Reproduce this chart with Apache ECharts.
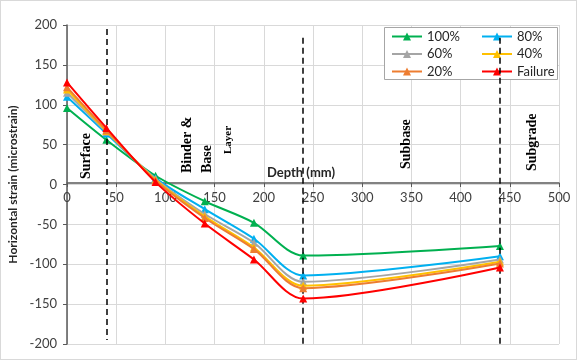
<!DOCTYPE html>
<html>
<head>
<meta charset="utf-8">
<script src="https://cdn.jsdelivr.net/npm/echarts@6/dist/echarts.min.js"></script>
<style>
    html, body {margin:0;padding:0;background:#fff}
    #chart {width:577px;height:360px;box-sizing:border-box;border:1px solid #d9d9d9}
</style>
</head>
<body>
<div id="chart"></div>
<script>
    // depth (mm) and horizontal strain for each load level
    var depth = [0, 40, 90, 140, 190, 240, 440];
    var s100 = [96, 56, 11, -21, -48, -89, -77];
    var s80 = [110, 64, 8, -31, -68, -114, -90];
    var s60 = [115, 66, 7, -37, -73, -122, -94];
    var s40 = [119, 67, 6, -40, -79, -127, -97];
    var s20 = [122, 68, 5, -42, -81, -130, -99];
    var sFail = [128, 71, 3, -49, -94, -143, -104];
    var names = ['100%', '80%', '60%', '40%', '20%', 'Failure'];
    var colors = ['#00b050', '#00b0f0', '#a5a5a5', '#ffc000', '#ed7d31', '#ff0000'];
    var layerBounds = [40, 240, 440];

    var chart = echarts.init(document.getElementById('chart'));

    function pts(vals) {
        return depth.map(function (d, i) { return [d, vals[i]]; });
    }

    var allVals = [s100, s80, s60, s40, s20, sFail];
    var series = allVals.map(function (v, i) {
        return {
            name: names[i],
            type: 'line',
            data: pts(v),
            smooth: 0.3,
            symbol: 'triangle',
            symbolSize: 8,
            color: colors[i],
            lineStyle: {width: 2},
            z: 3 + i
        };
    });

    // dashed layer boundaries
    series.push({
        name: 'bounds',
        type: 'line',
        data: [],
        silent: true,
        clip: false,
        markLine: {
            symbol: 'none',
            silent: true,
            label: {show: false},
            lineStyle: {color: '#000', type: [6, 4], width: 1.5},
            data: layerBounds.map(function (b, i) {
                return [{coord: [b, i === 0 ? 195 : 184]}, {coord: [b, i === 0 ? -195 : -200]}];
            })
        }
    });

    var serif = 'Liberation Serif';
    function vtext(txt, x, yBottom, size) {
        return {
            type: 'text', x: x, y: yBottom, rotation: Math.PI / 2, z: 20,
            style: {text: txt, font: 'bold ' + size + 'px "' + serif + '"', fill: '#000',
                textAlign: 'left', textVerticalAlign: 'middle'}
        };
    }

    var legendBase = {
        orient: 'vertical', top: 29, padding: 0,
        itemWidth: 30, itemHeight: 10, itemGap: 4.5,
        textStyle: {fontFamily: 'Lato', fontSize: 13, color: '#262626', lineHeight: 12}
    };

    var option = {
        animation: false,
        grid: {left: 66, right: 17, top: 24, bottom: 15, containLabel: false, outerBoundsMode: 'none'},
        legend: [
            Object.assign({}, legendBase, {left: 390, data: [names[0], names[2], names[4]]}),
            Object.assign({}, legendBase, {left: 480, data: [names[1], names[3], names[5]]})
        ],
        xAxis: {
            type: 'value', min: 0, max: 500, interval: 50,
            offset: -161,
            axisLine: {show: true, onZero: false, lineStyle: {color: '#595959', width: 1.5}},
            axisTick: {show: true, length: 4, lineStyle: {color: '#595959'}},
            axisLabel: {fontFamily: 'Lato', fontSize: 13, color: '#404040', margin: 8},
            splitLine: {lineStyle: {color: '#d9d9d9'}}
        },
        yAxis: {
            type: 'value', min: -200, max: 200, interval: 50,
            name: 'Horizontal strain (microstrain)',
            nameLocation: 'middle', nameGap: 40,
            nameTextStyle: {fontFamily: 'Lato', fontSize: 12, fontWeight: 'bold', color: '#262626'},
            axisLine: {show: true, onZero: false, lineStyle: {color: '#595959', width: 1.5}},
            axisTick: {show: true, length: 4, lineStyle: {color: '#595959'}},
            axisLabel: {fontFamily: 'Lato', fontSize: 13, color: '#404040', margin: 10},
            splitLine: {lineStyle: {color: '#d9d9d9'}}
        },
        graphic: [
            // legend frame
            {
                type: 'rect', shape: {x: 383.5, y: 26.5, width: 173, height: 52}, z: 1,
                style: {fill: '#fff', stroke: '#a6a6a6', lineWidth: 1}
            },
            vtext('Surface', 85, 178, 14),
            vtext('Binder &', 186, 172, 14),
            vtext('Base', 206, 172, 14),
            vtext('Layer', 227, 153, 11),
            vtext('Subbase', 405, 168, 14),
            vtext('Subgrade', 531, 170, 14),
            {
                type: 'text', x: 300, y: 172, z: 20,
                style: {text: 'Depth (mm)', font: 'bold 13px Lato', fill: '#262626',
                    textAlign: 'center', textVerticalAlign: 'middle'}
            }
        ],
        series: series
    };
    chart.setOption(option);
</script>
</body>
</html>
